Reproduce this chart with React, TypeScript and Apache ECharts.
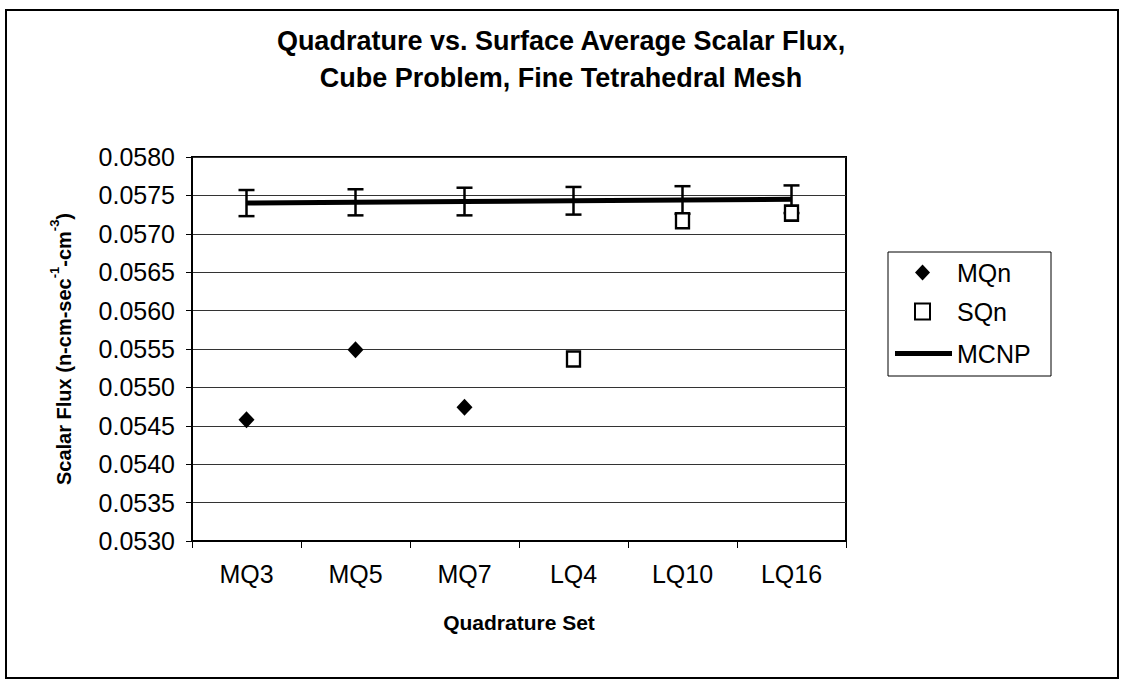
import React, { useEffect, useRef } from "react";
import * as echarts from "echarts";

const titleLines = [
  "Quadrature vs. Surface Average Scalar Flux,",
  "Cube Problem, Fine Tetrahedral Mesh",
];
const categories = ["MQ3", "MQ5", "MQ7", "LQ4", "LQ10", "LQ16"];
const mqnValues: (number | null)[] = [0.05458, 0.05549, 0.05474, null, null, null];
const sqnValues: (number | null)[] = [null, null, null, 0.05537, 0.05717, 0.05727];
const mcnpValues = [0.0574, 0.05741, 0.05742, 0.05743, 0.05744, 0.05745];
const mcnpErrors = [0.00017, 0.00017, 0.00018, 0.00018, 0.00018, 0.00018];
const yMin = 0.053;
const yMax = 0.058;
const yStep = 0.0005;

const FONT = "'Liberation Sans', Arial, sans-serif";

export default function App() {
  const ref = useRef<HTMLDivElement>(null);
  useEffect(() => {
    if (!ref.current) return;
    const chart = echarts.init(ref.current, null, { renderer: "svg" });
    const errorData = categories.map((_, i) => [
      i,
      mcnpValues[i] - mcnpErrors[i],
      mcnpValues[i] + mcnpErrors[i],
    ]);
    const legendText = { fontFamily: FONT, fontSize: 25, color: "#000" };
    chart.setOption({
      animation: false,
      backgroundColor: "#ffffff",
      textStyle: { fontFamily: FONT, color: "#000" },
      title: {
        text: titleLines.join("\n"),
        left: "center",
        top: 17,
        textStyle: {
          fontFamily: FONT,
          fontSize: 27,
          fontWeight: "bold",
          color: "#000",
          lineHeight: 37,
        },
      },
      graphic: [
        {
          type: "rect",
          shape: { x: 6, y: 10, width: 1112, height: 668 },
          style: { fill: "none", stroke: "#000", lineWidth: 2 },
          silent: true,
        },
        {
          type: "rect",
          shape: { x: 888, y: 252, width: 163, height: 124 },
          style: { fill: "none", stroke: "#000", lineWidth: 1 },
          silent: true,
        },
      ],
      legend: [
        {
          orient: "vertical",
          left: 914,
          top: 260,
          padding: 0,
          data: [
            { name: "MQn", icon: "diamond" },
            { name: "SQn", icon: "rect" },
          ],
          itemWidth: 15,
          itemHeight: 16,
          itemGap: 14,
          selectedMode: false,
          textStyle: { ...legendText, padding: [0, 0, 0, 22] },
        },
        {
          orient: "vertical",
          left: 895,
          top: 341,
          padding: 0,
          data: [{ name: "MCNP", icon: "rect" }],
          itemWidth: 57,
          itemHeight: 5,
          selectedMode: false,
          textStyle: legendText,
        },
      ],
      grid: {
        left: 192,
        top: 157,
        width: 654,
        height: 384,
        show: true,
        borderColor: "#000",
        borderWidth: 2,
        backgroundColor: "transparent",
      },
      xAxis: {
        type: "category",
        data: categories,
        boundaryGap: true,
        name: "Quadrature Set",
        nameLocation: "middle",
        nameGap: 71,
        nameTextStyle: { fontFamily: FONT, fontSize: 21, fontWeight: "bold", color: "#000" },
        axisLine: { show: true, lineStyle: { color: "#000", width: 2 } },
        axisTick: { show: true, alignWithLabel: false, length: 7, lineStyle: { color: "#000", width: 1 } },
        axisLabel: { fontFamily: FONT, fontSize: 25, color: "#000", margin: 20 },
        splitLine: { show: false },
      },
      yAxis: {
        type: "value",
        min: yMin,
        max: yMax,
        interval: yStep,
        name: "{b|Scalar Flux (n-cm-sec}{s|-1}{b|-cm}{s|-3}{b|)}",
        nameLocation: "middle",
        nameRotate: 90,
        nameGap: 118,
        nameTextStyle: {
          rich: {
            b: { fontFamily: FONT, fontSize: 20, fontWeight: "bold", color: "#000", lineHeight: 26, verticalAlign: "bottom" },
            s: { fontFamily: FONT, fontSize: 13, fontWeight: "bold", color: "#000", lineHeight: 26, verticalAlign: "top" },
          },
        },
        axisLine: { show: true, lineStyle: { color: "#000", width: 2 } },
        axisTick: { show: true, length: 6, lineStyle: { color: "#000", width: 1 } },
        axisLabel: {
          fontFamily: FONT,
          fontSize: 25,
          color: "#000",
          margin: 17,
          formatter: (v: number) => v.toFixed(4),
        },
        splitLine: { show: true, lineStyle: { color: "#333", width: 1 } },
      },
      series: [
        {
          name: "MCNP",
          type: "line",
          data: mcnpValues,
          symbol: "none",
          lineStyle: { color: "#000", width: 5 },
          itemStyle: { color: "#000" },
          z: 2,
        },
        {
          name: "MCNP error",
          type: "custom",
          data: errorData,
          encode: { x: 0, y: [1, 2] },
          z: 3,
          renderItem: (params: any, api: any) => {
            const x = api.value(0);
            const lo = api.coord([x, api.value(1)]);
            const hi = api.coord([x, api.value(2)]);
            const hw = 8;
            const st = { stroke: "#000", lineWidth: 2.5 };
            return {
              type: "group",
              children: [
                { type: "line", shape: { x1: lo[0], y1: lo[1], x2: hi[0], y2: hi[1] }, style: st },
                { type: "line", shape: { x1: lo[0] - hw, y1: lo[1], x2: lo[0] + hw, y2: lo[1] }, style: st },
                { type: "line", shape: { x1: hi[0] - hw, y1: hi[1], x2: hi[0] + hw, y2: hi[1] }, style: st },
              ],
            };
          },
        },
        {
          name: "MQn",
          type: "scatter",
          data: mqnValues,
          symbol: "diamond",
          symbolSize: [16, 17],
          itemStyle: { color: "#000", opacity: 1 },
          z: 4,
        },
        {
          name: "SQn",
          type: "scatter",
          data: sqnValues,
          symbol: "rect",
          symbolSize: [13, 15],
          itemStyle: { color: "#fff", borderColor: "#000", borderWidth: 2.5, opacity: 1 },
          z: 4,
        },
      ],
    });
    return () => chart.dispose();
  }, []);
  return (
    <div
      ref={ref}
      style={{ position: "fixed", left: 0, top: 0, width: 1122, height: 682, background: "#fff" }}
    />
  );
}
